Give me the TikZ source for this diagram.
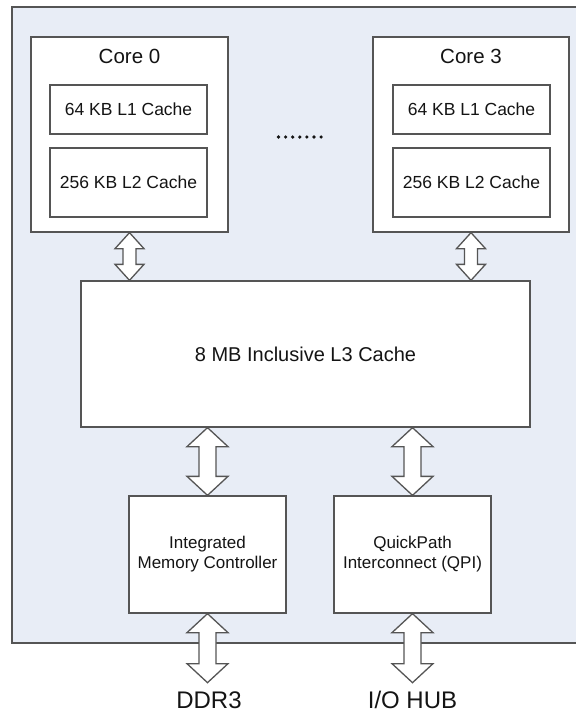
\documentclass[tikz,border=0pt]{standalone}
\usepackage{fontspec}
\setmainfont{Liberation Sans}
\usetikzlibrary{calc}
\definecolor{chipfill}{RGB}{232,237,246}
\definecolor{edge}{RGB}{85,85,85}
\definecolor{ink}{RGB}{20,20,20}
\tikzset{
  box/.style={draw=edge, line width=1.3pt, fill=white, inner sep=0pt, text=ink, align=center},
  fat/.style={draw=edge, line width=1.3pt, fill=white, line join=miter},
  cachefont/.style={font=\fontsize{17.5}{21}\selectfont},
  unitfont/.style={font=\fontsize{17}{20}\selectfont},
  corefont/.style={font=\fontsize{20.5}{24}\selectfont, text=ink},
  extfont/.style={font=\fontsize{24}{28}\selectfont, text=ink, inner sep=0pt, anchor=base},
}
% vertical double-headed block arrow between two points
% #1 upper tip, #2 lower tip, #3 head half width, #4 shaft half width, #5 head length
\newcommand\fatarrow[5]{%
  \draw[fat] (#1) -- ++(#3,#5) -- ++(-#3+#4,0) -- ($(#2)+(#4,-#5)$)
    -- ++(#3-#4,0) -- (#2) -- ++(-#3,-#5) -- ++(#3-#4,0)
    -- ($(#1)+(-#4,#5)$) -- ++(-#3+#4,0) -- cycle;}
\begin{document}
\begin{tikzpicture}[x=1pt, y=-1pt]
  \useasboundingbox (0,0) rectangle (576,713);
  % processor die
  \draw[draw=edge, line width=1.6pt, fill=chipfill] (12,7) rectangle (600,643);

  % cores
  \node[box, minimum width=197pt, minimum height=195pt] (core0) at (129.5,134.5) {};
  \node[corefont] (core0t) at (129.5,56) {Core 0};
  \node[box, cachefont, minimum width=157pt, minimum height=49pt] (l1a) at (128.5,109.5) {64 KB L1 Cache};
  \node[box, cachefont, minimum width=157pt, minimum height=69pt] (l2a) at (128.5,182.5) {256 KB L2 Cache};

  \node[box, minimum width=196pt, minimum height=195pt] (core3) at (471,134.5) {};
  \node[corefont] (core3t) at (471,56) {Core 3};
  \node[box, cachefont, minimum width=157pt, minimum height=49pt] (l1b) at (471.5,109.5) {64 KB L1 Cache};
  \node[box, cachefont, minimum width=157pt, minimum height=69pt] (l2b) at (471.5,182.5) {256 KB L2 Cache};

  % ellipsis between the cores
  \foreach \i in {0,...,6} \fill[ink] (278.5+\i*7.1,137) circle (1.8pt);

  % shared cache
  \node[box, font=\fontsize{20}{24}\selectfont, minimum width=449pt, minimum height=146pt] (l3) at (305.5,354) {8 MB Inclusive L3 Cache};

  % uncore blocks
  \node[box, unitfont, minimum width=157pt, minimum height=117pt] (imc) at (207.5,554.5) {Integrated\\Memory Controller};
  \node[box, unitfont, minimum width=157pt, minimum height=117pt] (qpi) at (412.5,554.5) {QuickPath\\Interconnect (QPI)};

  % external labels
  \node[extfont] (ddr) at (209,708) {DDR3};
  \node[extfont] (ioh) at (412.5,708) {I/O HUB};

  % connections
  \coordinate (c0b) at (core0.south);
  \coordinate (c3b) at (core3.south);
  \fatarrow{c0b}{c0b |- l3.north}{14.5}{6.5}{16}
  \fatarrow{c3b}{c3b |- l3.north}{14.5}{6.5}{16}
  \fatarrow{imc.north |- l3.south}{imc.north}{20.5}{8.5}{19}
  \fatarrow{qpi.north |- l3.south}{qpi.north}{20.5}{8.5}{19}
  \coordinate (ddrend) at ($(imc.south)+(0,69)$);
  \coordinate (iohend) at ($(qpi.south)+(0,69)$);
  \fatarrow{imc.south}{ddrend}{20.5}{8.5}{19}
  \fatarrow{qpi.south}{iohend}{20.5}{8.5}{19}
\end{tikzpicture}
\end{document}
